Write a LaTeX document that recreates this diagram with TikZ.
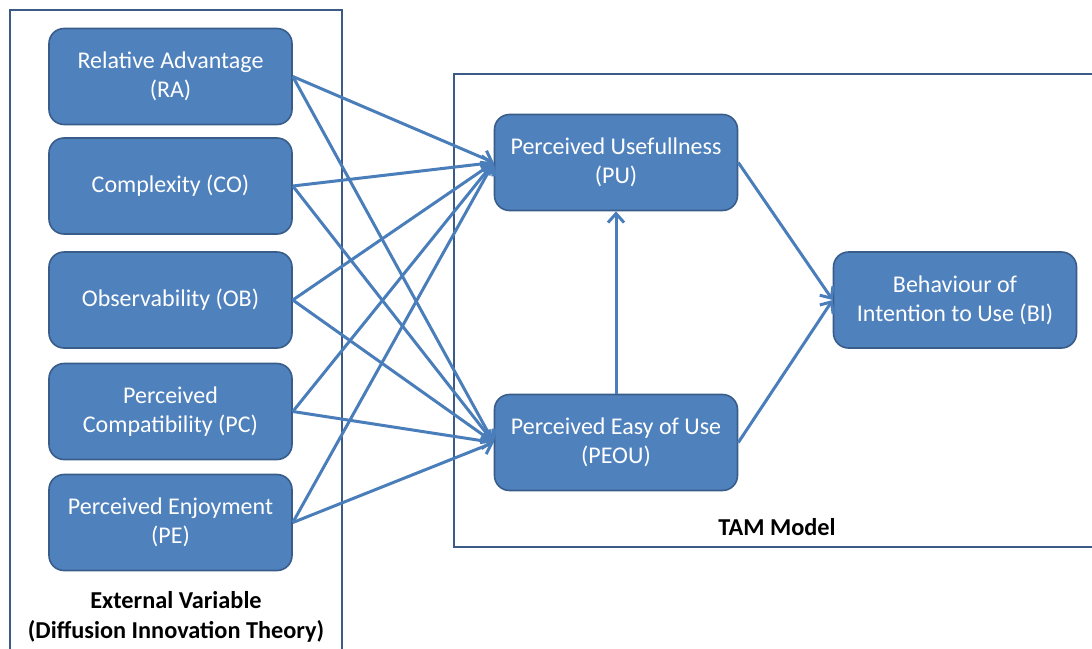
\documentclass[tikz,border=0pt]{standalone}
\usepackage{fontspec}
\setmainfont{Carlito}
\usetikzlibrary{arrows.meta}
\definecolor{boxblue}{HTML}{4F81BD}
\definecolor{boxborder}{HTML}{385D8A}
\definecolor{arrowblue}{HTML}{4A7EBB}
\definecolor{framecol}{HTML}{3B5A86}
\tikzset{
  box/.style={rectangle, rounded corners=15pt, fill=boxblue, draw=boxborder, line width=1.6pt,
    text=white, align=center, minimum width=243pt, minimum height=96pt, inner sep=0pt,
    font=\fontsize{24}{29}\selectfont},
  arr/.style={draw=arrowblue, line width=3pt, -{Straight Barb[length=9pt,width=16pt,line width=3pt]}},
  frame/.style={draw=framecol, line width=2pt},
  lbl/.style={align=center, font=\fontsize{24.3}{30}\selectfont\bfseries, inner sep=0pt}
}
\begin{document}
\begin{tikzpicture}[x=1pt,y=-1pt]
\clip (0,0) rectangle (1092,648);
\fill[white] (0,0) rectangle (1092,648);
% frames
\draw[frame] (10,10) rectangle (342,700);
\draw[frame] (454,74) rectangle (1110,547);
% left nodes
\node[box] (RA) at (170.5,76.5) {Relative Advantage\\(RA)};
\node[box] (CO) at (170.5,186) {Complexity (CO)};
\node[box] (OB) at (170.5,300) {Observability (OB)};
\node[box] (PC) at (170.5,411.5) {Perceived\\Compatibility (PC)};
\node[box] (PE) at (170.5,522.5) {Perceived Enjoyment\\(PE)};
% TAM nodes
\node[box] (PU) at (616,162.5) {Perceived Usefullness\\(PU)};
\node[box] (PEOU) at (616,442.5) {Perceived Easy of Use\\(PEOU)};
\node[box] (BI) at (955,300) {Behaviour of\\Intention to Use (BI)};
% labels
\node[lbl] (ext) at (176,617) {External Variable\\(Diffusion Innovation Theory)};
\node[lbl] (tam) at (777,527) {TAM Model};
% connectors
\foreach \s in {RA,CO,OB,PC,PE}{
  \draw[arr] (\s.east) -- (PU.west);
  \draw[arr] (\s.east) -- (PEOU.west);
}
\draw[arr] (PEOU.north) -- (PU.south);
\draw[arr] (PU.east) -- (BI.west);
\draw[arr] (PEOU.east) -- (BI.west);
\end{tikzpicture}
\end{document}
